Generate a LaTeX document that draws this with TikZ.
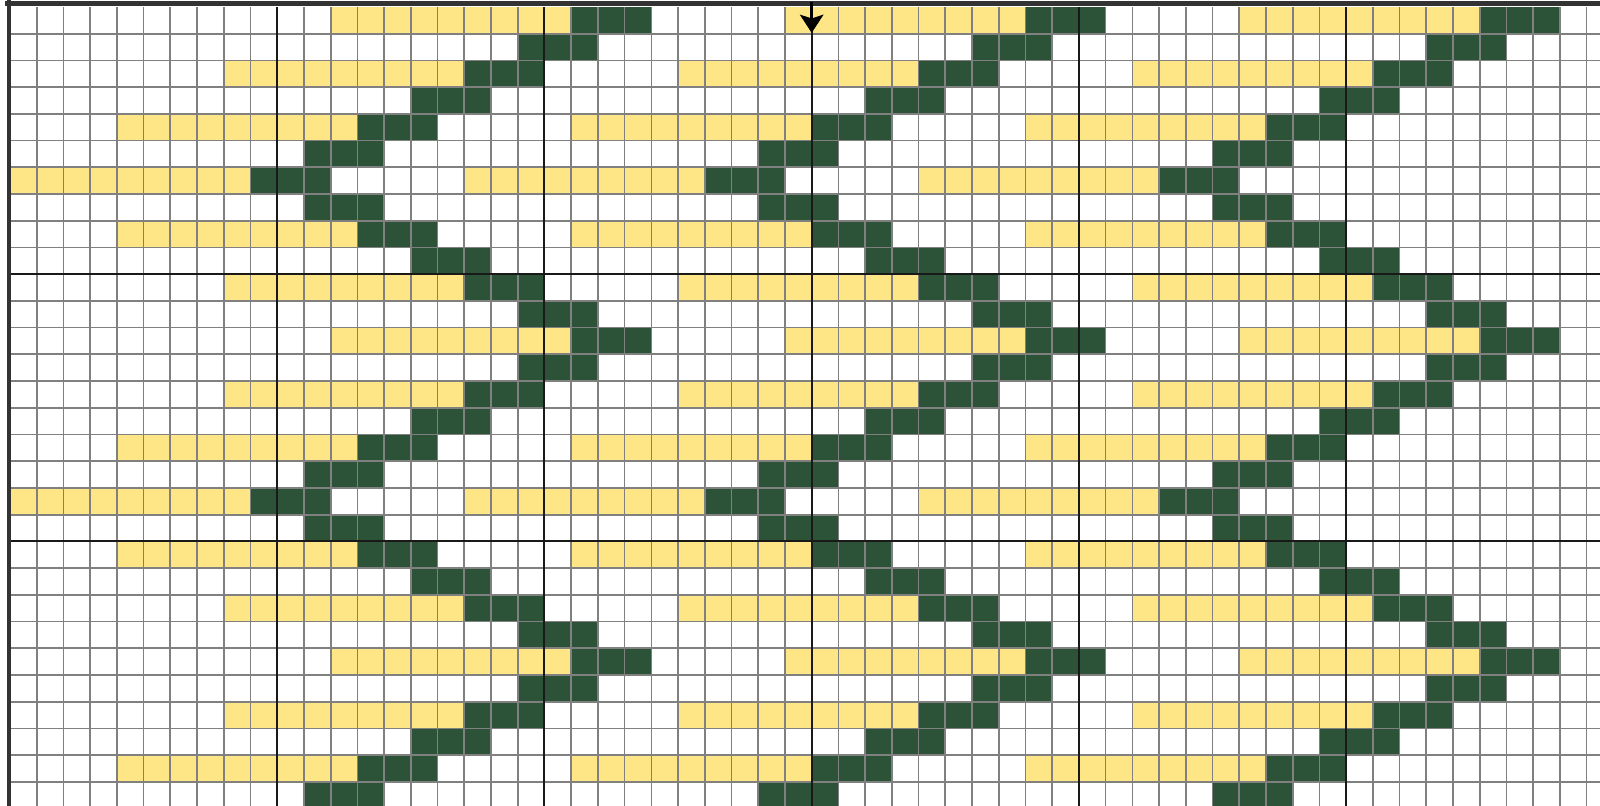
\documentclass[tikz,border=0pt]{standalone}
\usetikzlibrary{arrows.meta}

\definecolor{chartyellow}{RGB}{254,230,135}
\definecolor{chartgreen}{RGB}{44,82,56}

\begin{document}
\begin{tikzpicture}[
  x=0.5cm, y=0.5cm,
  yarn/.style={fill=chartyellow},
  twist/.style={fill=chartgreen},
  minor/.style={draw=black!50, line width=0.9pt},
  major/.style={draw=black!90, line width=1.1pt},
  frame/.style={draw=black!80, line cap=rect},
  marker/.style={draw=black, line width=1.3pt, -{Stealth[length=3.4mm, width=4.4mm, inset=0.7mm]}}
]
  \useasboundingbox (-0.374,0.26) rectangle (59.5,-29.9);
  \fill[white] (-0.374,0.26) rectangle (59.5,-29.9);
  % repeats: 3 motifs, 17 columns apart, 12 rows a turn
  \foreach \r in {0,...,29} {
    \pgfmathtruncatemacro{\g}{9+2*abs(6-mod(\r,12))}
    \foreach \m in {0,17,34} {
      \pgfmathtruncatemacro{\s}{\g+\m}
      \ifodd\r\else
        \fill[yarn] (\s-9,-\r) rectangle (\s,-\r-1);
      \fi
      \fill[twist] (\s,-\r) rectangle (\s+3,-\r-1);
    }
  }
  \foreach \c in {1,...,60} \draw[minor] (\c,0) -- (\c,-31);
  \foreach \r in {1,...,30} \draw[minor] (0,-\r) -- (61,-\r);
  \foreach \c in {10,20,...,50} \draw[major] (\c,0) -- (\c,-31);
  \foreach \r in {10,20} \draw[major] (0,-\r) -- (61,-\r);
  \draw[frame, line width=2.8pt] (-0.1,0.12) -- (61,0.12);
  \draw[frame, line width=2.1pt] (-0.03,0.2) -- (-0.03,-31);
  \coordinate (marktop) at (30,0.2);
  \coordinate (marktip) at (30,-0.97);
  \draw[marker] (marktop) -- (marktip);
\end{tikzpicture}
\end{document}
